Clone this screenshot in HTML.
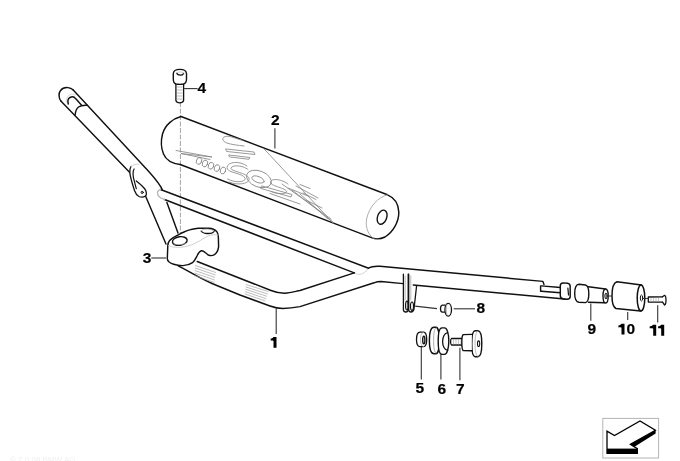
<!DOCTYPE html>
<html><head><meta charset="utf-8">
<style>
html,body{margin:0;padding:0;background:#fff;}
body{width:680px;height:461px;overflow:hidden;position:relative;}
svg{position:absolute;left:0;top:0;will-change:transform;}
.n{font-family:"Liberation Sans",sans-serif;font-weight:bold;font-size:14px;fill:#111;}
</style></head>
<body>
<svg width="680" height="461" viewBox="0 0 680 461">
<!-- dashed center line -->
<path d="M180.4,102 L180.4,236" stroke="#9a9a9a" stroke-width="0.9" stroke-dasharray="5,1.5" fill="none"/>

<g fill="none" stroke="#111" stroke-width="1.45" stroke-linecap="round" stroke-linejoin="round">
<!-- Handlebar left tube -->
<path d="M61.1,101.2 L130.5,173.3"/>
<path d="M145.3,195.5 L166,244"/>
<path d="M73,89.8 L149,171.7 Q160.4,184.5 162.4,190"/>
<path d="M166.9,202.4 L178,233"/>
<path d="M61.1,101.2 C58.5,98.5 58.5,93 60.5,90.5 C62.5,88 65.5,87.3 68,87.6 C70,87.9 71.5,88.5 73,89.8"/>
<path d="M68.3,104 C67.5,101 68,98.5 70,97.5 C72,96.5 74.5,97 75.8,98.8 L81.6,105.2"/>
<path d="M66.5,102 C66,98 68,94.5 71.5,94.2 C73,94 74.5,94.5 75.5,95" stroke="#ccc" stroke-width="0.8"/>
<path d="M75.1,115 C75.5,111 76.5,108.5 78.5,107 C80.5,105.5 83,105 87,105.2"/>
<!-- clip -->
<path d="M131,166.5 C129.5,169 129.5,172 130.3,175.6 C131,179 133,186 134.6,190.8 C135.5,193.5 137,195.5 139,196.5 C141,197.3 144,197 145.5,196 C147,194.5 146.5,191 144.5,188.5 C142,185.5 139,183 136.3,181" fill="#fff" stroke-width="1.3"/>
<path d="M134.1,169 C132.8,171 132.7,176 134.6,182.1 C135.2,184.5 135.8,187 136.3,188.6" stroke-width="1.2"/>
<circle cx="142.2" cy="192.4" r="1.1" stroke-width="1"/>
<path d="M131,166.5 C133,164.5 136,164 139,164.2" stroke="#c8c8c8" stroke-width="0.9"/>

<!-- Brace + right bar top -->
<path d="M160.5,189.5 L368.6,268.2 C371,266.5 374,266 380,266.3 L542.9,281.4 L544,284.4"/>
<path d="M164.5,199.5 L354.3,272.9"/>
<path d="M160.5,189.5 C156,191 156,197 164.5,199.5" stroke="#bbb"/>

<path d="M355.5,273 C358,275.5 363,275 367.5,269.5" stroke="#d0d0d0" stroke-width="1"/>
<!-- Lower tube -->
<path d="M197.2,261.5 L271,290.5 C276,292.5 280,293.3 285,293.2 C290,293 295,291.5 300,290.5 L354.3,272.9"/>
<path d="M178,265.6 C190,272.2 202,279.5 212,283.5 C220,286.8 230,290.8 240,295 L270,306 C274,307.5 278,308.5 283,308.5 C290,308.3 295,307.5 300,306.6 L374.1,282.8 C376,282 378,281.5 381,281.5 L403,283.6"/>
<path d="M413.3,285 L567.2,299.2"/>

<!-- hatching -->
<g stroke="#a0a0a0" stroke-width="0.7" fill="none">
<path d="M195.5,265.6 L215.5,272.4"/>
<path d="M195.3,268.1 L215.1,274.9"/>
<path d="M195.1,270.6 L214.7,277.4"/>
<path d="M194.9,273.1 L214.3,279.9"/>
<path d="M194.7,275.6 L213.9,282.4"/>
<path d="M246.3,284.6 L268.2,291.5"/>
<path d="M246.0,287.0 L267.4,293.9"/>
<path d="M245.7,289.3 L266.6,296.2"/>
<path d="M245.4,291.7 L265.8,298.6"/>
<path d="M245.1,294.0 L265.0,300.9"/>
</g>

<!-- bar end slot -->
<path d="M540.6,285.9 L540.6,291.2 M541.4,285.9 L560.3,287.5 M541.4,291.2 L560.3,292.8"/>
<path d="M563,282.9 L567.5,283.2 C569.5,283.4 570.2,284.5 570.2,286.5 L570.2,296.5 C570.2,298.5 569,299.2 567.2,299.2 L563,298.8 C561,298.6 560.3,297.5 560.3,295.5 L560.3,285.8 C560.3,283.8 561,282.9 563,282.9 Z" fill="#fff"/>
<path d="M567.9,288.2 L568.5,295" stroke-width="1.2"/>

<!-- Clamp 3 -->
<path d="M169.6,240.5 C168.3,242 167.9,244 167.8,246 L167.3,258.5 C167.4,261 169,262.8 173.7,264.3 C177,265.3 180,265.7 183,265.6 C187,265.4 190,264.5 192.5,262.7 C194.5,261 195.7,258.5 197,256 C198.3,253.2 199.5,251.2 201.5,250.8 C204,250.5 205.5,253.5 208.9,255.3 C211,256 213,255.5 214.5,254.6 C217,253 218.2,250 218.6,246.7 L218.4,238 C218.2,234.5 217.8,232.5 216.5,231.2 C215,229.6 212.5,228.5 208.9,228.2 L198.3,228.2 C195,228.5 192,229 189.5,229.9 C186,231 183.5,232.3 180.7,233.5 C178,234.8 175.5,236 173.6,237.4 C172,238.5 170.5,239.5 169.6,240.5 Z" fill="#fff"/>
<ellipse cx="179.8" cy="241" rx="7.4" ry="4.3" transform="rotate(-8 179.8 241)" stroke-width="1.4"/>
<path d="M201.2,231 C202.5,233 205.5,233.6 208,233.5 C211,233.4 213.5,232.6 214.2,231.2" stroke-width="1.3"/>
<path d="M201.2,231 C201.5,229.5 204,229 207.5,229.2 C210.5,229.4 213.5,230 214.2,231.2" stroke="#aaa" stroke-width="0.8"/>
<path d="M168.5,245.5 C172,247.5 178,248 186,246.5 C194,245 201,240 206,237 C210,235 214,234 218,235" stroke="#c4c4c4" stroke-width="0.8"/>
<path d="M174,244 C176,245 182,245 186,243.5" stroke="#aaa" stroke-width="0.7"/>

<!-- Pad 2 -->
<path d="M181,116.5 L387.5,194.8 C394,197.5 398.5,203 398.8,212 C399,222 393,232 385,237 C380,239.5 376,239.3 372.1,237.9 L180.2,164.5"/>
<path d="M387.5,194.8 C378,197 369,207 366.6,219 C365,228 369,236 374.3,238.9" stroke="#999" stroke-width="0.8"/>
<path d="M181,116.5 C173,118.5 165,125 162.5,134 C161,140 161,148 163.5,154 C166,160 172,163.5 180.2,164.5"/>
<ellipse cx="382.1" cy="217.2" rx="4.6" ry="7.3" transform="rotate(20 382.1 217.2)" stroke-width="1.4"/>

<!-- pad logo -->
<g stroke="#888" stroke-width="0.85" fill="none" stroke-linejoin="round">
<path d="M243,140.5 L230,136.5 C224,135.5 221.5,138 223.5,140.8 C225,143 230,144.5 244,146"/>
<path d="M226,149 L254,152 L255,154.5 L227,151.5 Z"/>
<path d="M229,155 L250,157.5 L249,159.3 L230,157 Z"/>
<path d="M176,150.5 L212,157 L181,153.5 L210,159.5"/>
<ellipse cx="199" cy="161" rx="2.6" ry="3.5" transform="rotate(21 199 161)"/>
<ellipse cx="205" cy="163.5" rx="2.6" ry="3.5" transform="rotate(21 205 163.5)"/>
<ellipse cx="211" cy="165.8" rx="2.6" ry="3.5" transform="rotate(21 211 165.8)"/>
<ellipse cx="217" cy="168.1" rx="2.6" ry="3.5" transform="rotate(21 217 168.1)"/>
<ellipse cx="223" cy="170.5" rx="2.6" ry="3.5" transform="rotate(21 223 170.5)"/>
<path d="M247,166 C240,160.5 227.5,161.5 227,167.5 C226.5,173 243,173 245,178 C246.5,182 236,183.5 227.5,179"/>
<path d="M248,169.5 C242,164.5 231,165 231,168.5 C231,171.5 247,172.5 249,178.5 C250.5,183.5 238,186 229,182"/>
<ellipse cx="259" cy="179" rx="13" ry="8" transform="rotate(21 259 179)"/>
<ellipse cx="258" cy="179.5" rx="6.5" ry="3" transform="rotate(21 258 179.5)"/>
<path d="M288,184 C282,179 271,178 270.5,182 C270,186 284,187.5 286.5,191 C288,194 279,195 271,191.5"/>
<path d="M264,148.8 L333,223 M282,184 L331,219 M292,190 L333,222 M300,194 L328,219"/>
<path d="M288,188 L308,196 M296,186 L318,198 M300,184.5 L310,188.5 M270,193.5 L300,204"/>
<path d="M262,186 L292,194.5 L291,197 L261,188.5 Z M303,193 L316,199.5 M306,200 L322,208"/>
</g>

<!-- Bolt 4 -->
<path d="M175.9,83.5 L175.9,100.5 C176.5,102.5 178,102.8 179.7,102.8 C181.5,102.8 183,102.5 183.6,100.5 L183.6,83.5" fill="#fff" stroke-width="1.3"/>
<path d="M177.5,87 L182,87 M177.5,90 L182,90 M177.5,93 L182,93 M177.5,96 L182,96 M177.5,99 L182,99" stroke="#aaa" stroke-width="0.8"/>
<path d="M176,84 C174,83.5 173.3,81.5 173.3,79 L173.3,73.5 C173.5,70.5 176.5,69.4 179.9,69.4 C183.5,69.4 186.3,70.5 186.5,73.5 L186.5,79 C186.5,82 185.5,83.5 183.5,84 C181,84.5 178.5,84.5 176,84 Z" fill="#fff" stroke-width="1.4"/>
<path d="M176.7,73.4 C178,75.8 182.5,75.8 183.6,73.4" stroke-width="1.3"/>
<path d="M176.5,73 C178,71.5 182,71.5 183.7,73" stroke="#bbb" stroke-width="0.7"/>

<!-- bracket tabs -->
<path d="M403.4,274.2 L403.4,309.5 C403.4,311.5 404.5,312 405.8,312 C407.3,312 408.2,311.5 408.2,309.5 L408.2,274.2" fill="#fff" stroke-width="1.3"/>
<path d="M408.7,274.2 L408.7,309.5 C408.7,311.5 409.5,312 411,312 C412.5,312 413.5,311 414,309 L416.6,285.7" stroke-width="1.3"/>
<path d="M405.2,276 L405.2,300 M410.8,276 L410.8,300" stroke="#999" stroke-width="0.7"/>
<ellipse cx="406.9" cy="305.6" rx="1.3" ry="4.4" stroke-width="1.2"/>
<ellipse cx="412" cy="306.2" rx="1.5" ry="4.2" stroke-width="1.2"/>

<!-- part 8 -->
<path d="M445,305.2 L442.5,305.2 C441,305.5 440.5,307 440.5,308.7 C440.5,310.5 441,312 442.5,312.2 L445,312.2" stroke-width="1.3"/>
<ellipse cx="448.2" cy="309.8" rx="3.3" ry="6.4" fill="#fff" stroke-width="1.3"/>
<path d="M447,304.5 C446,306 446,313 447,315" stroke="#999" stroke-width="0.7"/>

<!-- part 5 nut -->
<path d="M420,332.2 L423.5,332.2 C425.5,332.2 426.7,335.5 426.7,339.5 C426.7,343.5 425.5,346.7 423.5,346.7 L420,346.7 C417.8,346.7 416.5,343.5 416.5,339.5 C416.5,335.5 417.8,332.2 420,332.2 Z" fill="#fff" stroke-width="1.3"/>
<path d="M423.5,332.4 C421.5,332.6 420.5,335.5 420.5,339.5 C420.5,343.5 421.5,346.4 423.5,346.6" stroke="#aaa" stroke-width="0.8"/>
<ellipse cx="423.8" cy="340" rx="1.1" ry="3.8" stroke-width="1.4"/>

<!-- part 6 washers -->
<path d="M434,327.3 C431,327.3 429.4,333 429.4,340.5 C429.4,348 431,353.8 434,353.8 L436,353.8 C438,353.8 439.4,348 439.4,340.5 C439.4,333 438,327.3 436,327.3 Z" fill="#fff" stroke-width="1.4"/>
<path d="M436,327.6 C434.3,328.3 433.6,334 433.6,340.5 C433.6,347 434.3,352.8 436,353.5" stroke="#999" stroke-width="0.8"/>
<path d="M442,327.9 C439.5,327.9 438.2,333.5 438.2,341 C438.2,348.5 439.5,354.4 442,354.4 L444.5,354.4 C447,354.4 448.8,348.5 448.8,341 C448.8,333.5 447,327.9 444.5,327.9 Z" fill="#fff" stroke-width="1.4"/>
<path d="M447.6,332.6 C444.6,333 442.6,337 442.6,341.5 C442.6,346 444.6,350 447.6,350.2" stroke-width="1.3"/>

<!-- part 7 -->
<path d="M462.4,338.5 L451.5,338.5 C450.8,338.8 450.6,341 450.6,341.8 C450.6,342.8 450.8,344.8 451.5,345 L462.4,345" stroke-width="1.3"/>
<path d="M453.5,339.5 L453.5,344 M456,339.5 L456,344 M458.5,339.5 L458.5,344 M461,339.5 L461,344" stroke="#aaa" stroke-width="0.7"/>
<path d="M475,330.8 C472.5,331 471.8,337 471.8,343.7 C471.8,350.5 472.5,356.5 475,356.7 L478,356.7 C480.5,356.5 481.8,350.5 481.8,343.7 C481.8,337 480.5,331 478,330.8 Z" fill="#fff" stroke-width="1.4"/>
<path d="M478,331 C475.8,331.5 475,337 475,343.7 C475,350.5 475.8,356 478,356.5" stroke="#aaa" stroke-width="0.8"/>
<path d="M471.8,334.4 L463.2,334.6 C462,335.5 461.8,340 461.8,342.6 C461.8,345.5 462,349.8 463.2,350.6 L471.8,350.8" fill="#fff" stroke-width="1.4"/>
<ellipse cx="478.6" cy="343.7" rx="1.1" ry="2.8" stroke-width="1.1"/>

<!-- part 9 -->
<path d="M579,284.3 L585.5,285 C588,285.5 588.8,290 588.8,294 C588.8,298 588,302 585.5,302.6 L579,302.3 C576,302 574.7,299 574.7,293.5 C574.7,288 576,284.5 579,284.3 Z" fill="#fff" stroke-width="1.4"/>
<path d="M588.5,286.8 L605.5,289 M588.5,302.3 L604.5,302.8" stroke-width="1.4"/>
<ellipse cx="605.6" cy="296" rx="2.6" ry="7" fill="#fff" stroke-width="1.4"/>
<ellipse cx="606" cy="296" rx="1.1" ry="3" stroke-width="1"/>

<!-- part 10 -->
<path d="M617,281.8 C613,283 612,288 612,296 C612,304 613,307 616,308.5 L640.6,311.1 M617,281.8 L641.4,285.1" fill="#fff" stroke-width="1.5"/>
<ellipse cx="641" cy="298" rx="3.8" ry="13" fill="#fff" stroke-width="1.5"/>
<ellipse cx="641.5" cy="298" rx="1.2" ry="3" stroke-width="1"/>

<!-- part 11 -->
<path d="M648.3,297 L662.5,296.8 M648.3,302 L662.5,302.2 M648.3,297 L648.3,302" stroke-width="1.3"/>
<path d="M662.5,296.8 L664.6,295.3 C666.3,295.8 666.6,304 664.6,305 L662.5,302.2" stroke-width="1.3"/>
<path d="M651,298.2 L651,300.8 M653.5,298.2 L653.5,300.8 M656,298.2 L656,300.8 M658.5,298.2 L658.5,300.8" stroke="#aaa" stroke-width="0.7"/>
</g>

<!-- leaders -->
<g stroke="#333" stroke-width="1.1" fill="none">
<path d="M184.1,88.6 L197.6,88.6"/>
<path d="M274.9,128.3 L274.9,148.5"/>
<path d="M151.3,258 L166,258"/>
<path d="M276.2,308.5 L276.2,334"/>
<path d="M415.1,306.1 L437,308.6"/>
<path d="M453.7,308.8 L475,308.8"/>
<path d="M421.3,346.9 L421.3,379.4"/>
<path d="M440.9,354.4 L440.9,379.4"/>
<path d="M459.9,347.7 L459.9,380.3"/>
<path d="M590.8,303.6 L590.8,320.7"/>
<path d="M627.7,312 L627.7,319.9"/>
<path d="M657.7,305.2 L657.7,322.5"/>
<path d="M607,296 L612,296 M642.3,298.5 L648.1,298.5"/>
</g>

<!-- labels -->
<g font-family="Liberation Sans" font-weight="bold" font-size="15.5" fill="#000" stroke="#000" stroke-width="0.2">
<text x="197.6" y="92.5">4</text>
<text x="270.9" y="125.2">2</text>
<text x="142.8" y="262.6">3</text>
<text x="476.5" y="313.3">8</text>
<text x="415.6" y="393.2">5</text>
<text x="437.4" y="393.7">6</text>
<text x="455.9" y="394.4">7</text>
<text x="587.5" y="334.2">9</text>
<text x="626.4" y="334.3">0</text>
</g>

<g fill="#000" stroke="none">
<path d="M273.5,337 L276.5,337 L276.5,347.8 L273.5,347.8 L273.5,341.0 C272.9,340.4 271.7,340.5 270.7,340.6 L270.7,338.6 C272.5,338.5 272.9,337.9 273.5,337 Z"/>
<path d="M621.5,323.8 L624.5,323.8 L624.5,334.4 L621.5,334.4 L621.5,327.8 C620.9,327.2 619.4,327.3 618.4,327.4 L618.4,325.4 C620.2,325.3 620.9,324.7 621.5,323.8 Z"/>
<path d="M653.2,324.7 L656.2,324.7 L656.2,335.7 L653.2,335.7 L653.2,328.7 C652.6,328.1 650.7,328.2 649.7,328.3 L649.7,326.3 C651.5,326.2 652.6,325.6 653.2,324.7 Z"/>
<path d="M661.2,324.7 L664.2,324.7 L664.2,335.7 L661.2,335.7 L661.2,328.7 C660.6,328.1 659.1,328.2 658.1,328.3 L658.1,326.3 C659.9,326.2 660.6,325.6 661.2,324.7 Z"/>
</g>
<text x="10" y="462" font-family="Liberation Sans" font-size="8" fill="#efefef">&#169; 2 0 08 BMW AG</text>
<!-- arrow icon -->
<g>
<rect x="602.8" y="418.4" width="55.8" height="39.6" fill="none" stroke="#b4b4b4" stroke-width="1"/>
<path d="M607,453.4 L607,431.1 L614.5,435.6 L640,421 L655.4,430.3 L630.4,444.4 L637.3,448.7 L637.3,453.4 Z" fill="#fff" stroke="#000" stroke-width="1.3" stroke-linejoin="miter"/>
<path d="M607,448.6 L637.6,448.6 L637.6,453.9 L607,453.9 Z" fill="#000"/>
<path d="M630.4,444.4 L655.6,430 L655.6,433.6 L634.5,446.8 Z" fill="#000"/>
</g>
</svg>
</body></html>
